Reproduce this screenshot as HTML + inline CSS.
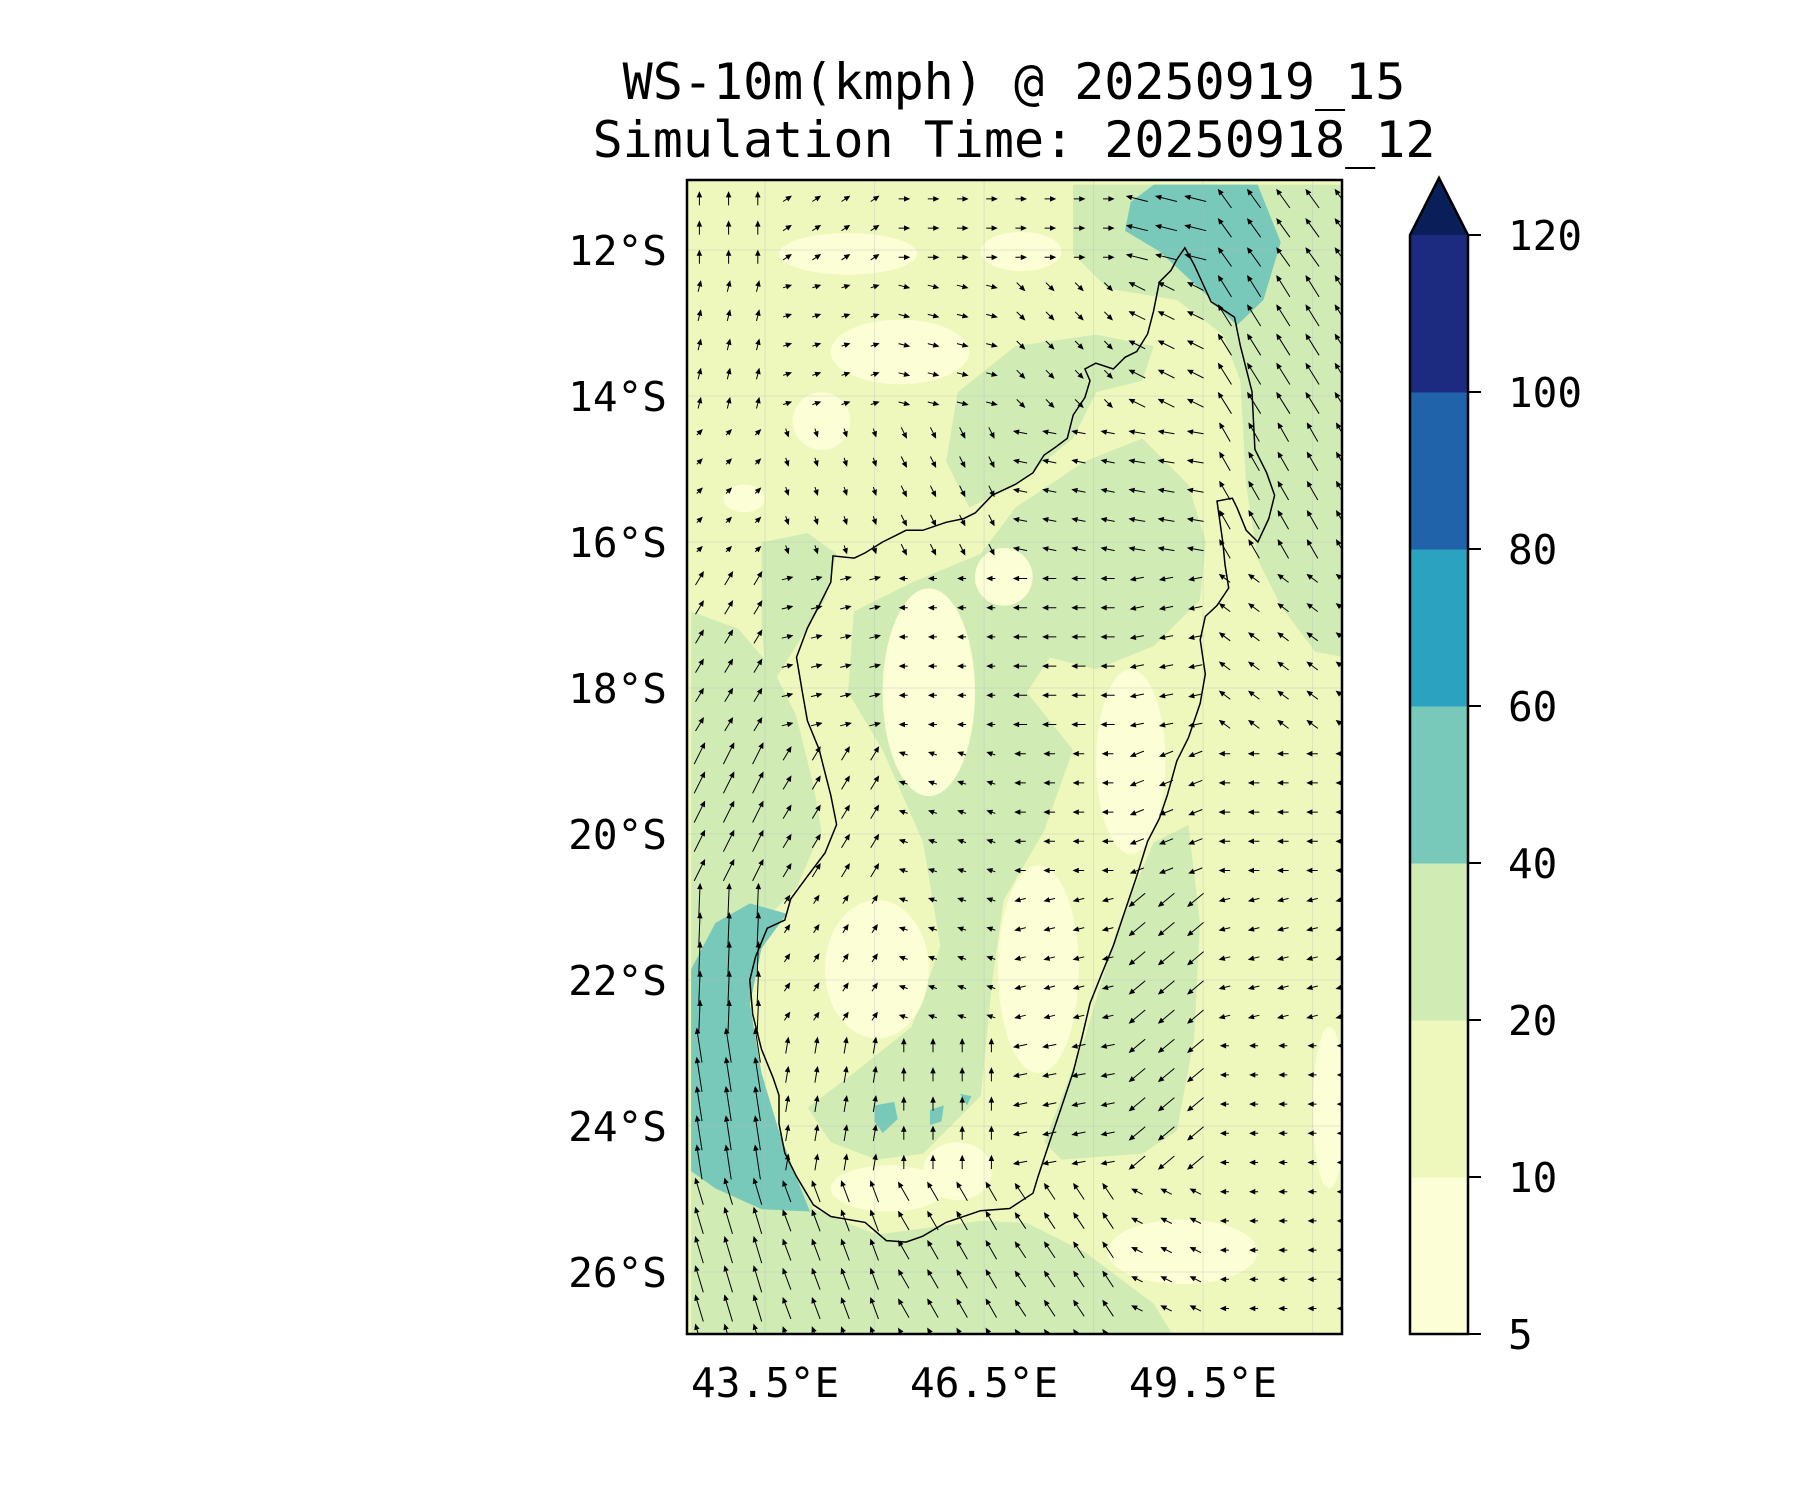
<!DOCTYPE html>
<html><head><meta charset="utf-8">
<style>
html,body{margin:0;padding:0;background:#fff;}
svg{display:block;}
text{font-family:"DejaVu Sans Mono","Liberation Mono",monospace;fill:#000;}
</style></head>
<body>
<svg id="chart" width="1800" height="1500" viewBox="0 0 1800 1500" xmlns="http://www.w3.org/2000/svg">
<defs>
<clipPath id="plotclip"><rect x="687" y="180" width="655" height="1154"/></clipPath>
</defs>
<text x="1014" y="99" font-size="50" text-anchor="middle">WS-10m(kmph) @ 20250919_15</text>
<text x="1014" y="157" font-size="50" text-anchor="middle">Simulation Time: 20250918_12</text>

<g clip-path="url(#plotclip)">
  <rect x="687" y="180" width="655" height="1154" fill="#eef8bd"/>
  <g transform="scale(1.1538)">
    <path fill="#d0ecb4" d="M599,530 L640,545 L670,580 L690,620 L705,680 L712,720 L690,770 L660,800 L645,840 L650,900 L680,1000 L705,1048 L760,1070 L850,1058 L890,1060 L940,1085 L1000,1130 L1020,1163 L599,1163 Z"/>
    <path fill="#d0ecb4" d="M660,470 L700,462 L725,480 L715,520 L690,560 L665,600 L660,540 Z"/>
    <path fill="#d0ecb4" d="M1000,730 L1030,715 L1040,800 L1035,900 L1020,980 L990,1000 L920,1005 L905,990 L940,900 L970,800 Z"/>
    <path fill="#d0ecb4" d="M930,160 L1168,160 L1168,570 L1140,565 L1110,525 L1090,485 L1080,420 L1075,330 L1060,290 L1020,260 L960,250 L930,220 Z"/>
    <path fill="#d0ecb4" d="M830,340 L880,300 L950,290 L1000,300 L990,330 L950,340 L930,380 L880,420 L840,440 L820,400 Z"/>
    <path fill="#d0ecb4" d="M880,440 L940,400 L990,380 L1030,420 L1045,470 L1040,520 L1000,560 L950,580 L910,570 L890,600 L930,650 L905,720 L870,780 L860,850 L850,950 L800,1000 L760,1005 L720,990 L700,960 L740,930 L790,890 L815,820 L800,730 L765,650 L735,600 L740,530 L790,505 L850,480 Z"/>
    <path fill="#78c9ba" d="M980,175 L1000,160 L1090,160 L1110,210 L1095,260 L1072,282 L1045,255 L1005,218 L975,200 Z"/>
    <path fill="#78c9ba" d="M599,840 L620,800 L650,783 L682,792 L660,822 L650,870 L660,930 L675,980 L690,1020 L702,1050 L660,1048 L620,1030 L599,1015 Z"/>
    <path fill="#78c9ba" d="M758,958 L775,955 L778,970 L765,982 L758,972 Z M806,962 L818,958 L816,972 L806,975 Z M832,948 L842,950 L838,958 Z"/>
    <g fill="#fcfed6">
      <ellipse cx="735" cy="220" rx="60" ry="18"/>
      <ellipse cx="885" cy="218" rx="35" ry="17"/>
      <ellipse cx="780" cy="305" rx="60" ry="28"/>
      <ellipse cx="712" cy="365" rx="25" ry="25"/>
      <ellipse cx="645" cy="432" rx="18" ry="12"/>
      <ellipse cx="1025" cy="1085" rx="65" ry="28"/>
      <ellipse cx="1152" cy="960" rx="14" ry="70"/>
      <ellipse cx="805" cy="600" rx="40" ry="90"/>
      <ellipse cx="980" cy="660" rx="30" ry="80"/>
      <ellipse cx="900" cy="840" rx="35" ry="90"/>
      <ellipse cx="760" cy="840" rx="45" ry="60"/>
      <ellipse cx="770" cy="1030" rx="50" ry="20"/>
      <ellipse cx="830" cy="1015" rx="30" ry="25"/>
      <ellipse cx="870" cy="500" rx="25" ry="25"/>
    </g>
  </g>
  <g id="gridlines"></g>
  <g id="coast"></g>
  <g id="arrows"></g>
</g>
<rect x="687" y="180" width="655" height="1154" fill="none" stroke="#000" stroke-width="2.5"/>
<g id="axes"></g>
<g id="colorbar"></g>
</svg>
<script>
const latTicks = [12, 14, 16, 18, 20, 22, 24, 26];
const lonTicks = [43.5, 46.5, 49.5];
const lonGrid = [43.5, 45, 46.5, 48, 49.5, 51];
const cbLevels = [5, 10, 20, 40, 60, 80, 100, 120];
const cbColors = ["#fcfed6", "#eef8bd", "#d0ecb4", "#78c9ba", "#2ca2c1", "#2163aa", "#1c2b7f"];
const cbExtendColor = "#0a1f5a";
const coastLon = [49.25,49.38,49.61,49.93,50.01,50.17,50.21,50.37,50.48,50.40,50.25,50.09,49.96,49.90,49.69,49.77,49.80,49.85,49.69,49.53,49.46,49.53,49.46,49.30,49.14,49.01,48.90,48.74,48.59,48.43,48.27,48.11,47.95,47.84,47.72,47.56,47.40,47.24,47.17,46.85,46.45,45.98,45.66,45.43,45.16,44.87,44.40,44.16,43.93,43.77,43.69,43.69,43.61,43.45,43.33,43.29,43.37,43.53,43.77,43.85,44.08,44.32,44.48,44.40,44.32,44.24,44.08,44.01,43.93,44.08,44.24,44.40,44.43,44.72,44.87,45.11,45.27,45.43,45.66,45.98,46.22,46.38,46.61,46.93,47.17,47.32,47.48,47.64,47.72,47.88,47.95,47.88,48.03,48.27,48.43,48.59,48.74,48.82,48.90,49.06,49.14];
const coastLat = [11.97,12.21,12.71,12.92,13.31,13.94,14.73,15.05,15.36,15.68,16.00,15.84,15.52,15.40,15.44,16.00,16.31,16.63,16.87,17.02,17.34,17.81,18.21,18.68,19.00,19.47,19.79,20.10,20.58,21.05,21.53,21.92,22.32,22.79,23.26,23.74,24.21,24.69,24.92,25.13,25.16,25.32,25.51,25.59,25.57,25.32,25.24,25.08,24.69,24.37,23.97,23.58,23.34,22.95,22.47,22.00,21.68,21.29,21.18,20.89,20.58,20.26,19.87,19.47,19.16,18.84,18.45,18.05,17.58,17.18,16.87,16.55,16.19,16.22,16.15,16.00,15.92,15.84,15.84,15.73,15.68,15.60,15.36,15.21,15.05,14.81,14.70,14.58,14.26,14.02,13.79,13.63,13.55,13.63,13.47,13.39,13.15,12.84,12.44,12.28,12.13];
// coarse wind field (u east, v north), rows = lat 11.5..25.5 step 2, cols = lon 43..50.5 step 1.5
const windLonCenters = [43, 44.5, 46, 47.5, 49, 50.5];
const windLatCenters = [11.5, 13.5, 15.5, 17.5, 19.5, 21.5, 23.5, 25.5];
const windU = [
 [0.0, 0.3, 0.4, 0.4, -0.8, -0.5],
 [0.1, 0.3, 0.4, 0.3, -0.6, -0.5],
 [0.2, 0.1, 0.2, -0.5, -0.6, -0.4],
 [0.3, 0.4, -0.3, -0.5, -0.5, -0.4],
 [0.4, 0.3, -0.3, -0.4, -0.5, -0.4],
 [0.05, 0.2, -0.3, -0.4, -0.6, -0.4],
 [-0.2, 0.1, 0.0, -0.5, -0.6, -0.3],
 [-0.3, -0.3, -0.4, -0.4, -0.4, -0.3]];
const windV = [
 [0.5, 0.2, 0.0, 0.0, 0.2, 0.7],
 [0.4, 0.1, -0.1, -0.3, 0.3, 0.8],
 [0.2, -0.3, -0.4, 0.1, 0.1, 0.7],
 [0.5, 0.1, 0.0, 0.0, -0.1, 0.3],
 [0.8, 0.5, 0.1, 0.0, -0.2, 0.0],
 [1.2, 0.3, 0.1, -0.1, -0.5, -0.1],
 [1.3, 0.6, 0.5, -0.1, -0.5, 0.0],
 [1.0, 0.8, 0.7, 0.6, 0.2, 0.0]];

const NS = "http://www.w3.org/2000/svg";
const X0 = 687, LON0 = 42.43, PX = 73, Y12 = 250;
function X(lon){ return X0 + (lon - LON0) * PX; }
function Y(lat){ return Y12 + (lat - 12) * PX; }
function mk(tag, parent){ const e = document.createElementNS(NS, tag); parent.appendChild(e); return e; }

const gg = document.getElementById('gridlines');
lonGrid.forEach(l => {
  const ln = mk('line', gg);
  
  
  ln.setAttribute('x1', X(l)); ln.setAttribute('x2', X(l)); ln.setAttribute('y1', 180); ln.setAttribute('y2', 1334);
  ln.setAttribute('stroke', '#bbb'); ln.setAttribute('stroke-opacity', '0.35'); ln.setAttribute('stroke-width', '1');
});
latTicks.forEach(l => {
  const ln = mk('line', gg);
  
  
  ln.setAttribute('x1', 687); ln.setAttribute('x2', 1342); ln.setAttribute('y1', Y(l)); ln.setAttribute('y2', Y(l));
  ln.setAttribute('stroke', '#bbb'); ln.setAttribute('stroke-opacity', '0.35'); ln.setAttribute('stroke-width', '1');
});

const cg = document.getElementById('coast');
const cp = mk('polygon', cg);


cp.setAttribute('points', coastLon.map((l, i) => X(l).toFixed(1) + ',' + Y(coastLat[i]).toFixed(1)).join(' '));
cp.setAttribute('fill', 'none'); cp.setAttribute('stroke', '#000'); cp.setAttribute('stroke-width', '1.5');

const ag = document.getElementById('arrows');
function nearest(arr, v){ let b = 0; arr.forEach((a, i) => { if (Math.abs(a - v) < Math.abs(arr[b] - v)) b = i; }); return b; }
for (let lat = 11.3; lat < 26.9; lat += 0.4) {
  for (let lon = 42.6; lon < 51.4; lon += 0.4) {
    const r = nearest(windLatCenters, lat), c = nearest(windLonCenters, lon);
    const u = windU[r][c], v = windV[r][c];
    const cx = X(lon), cy = Y(lat), s = 26;
    const dx = u * s, dy = -v * s;
    const len = Math.hypot(dx, dy) || 1;
    const x1 = cx - dx / 2, y1 = cy - dy / 2, x2 = cx + dx / 2, y2 = cy + dy / 2;
    const ux = dx / len, uy = dy / len, h = 4.5, w = 2;
    const p = mk('path', ag);
    
    
    const bx = x2 - ux * h, by = y2 - uy * h;
    p.setAttribute('d', `M${x1.toFixed(1)},${y1.toFixed(1)} L${bx.toFixed(1)},${by.toFixed(1)} M${x2.toFixed(1)},${y2.toFixed(1)} L${(bx - uy * w).toFixed(1)},${(by + ux * w).toFixed(1)} L${(bx + uy * w).toFixed(1)},${(by - ux * w).toFixed(1)} Z`);
    p.setAttribute('stroke', '#000'); p.setAttribute('stroke-width', '1'); p.setAttribute('fill', '#000');
  }
}

const ax = document.getElementById('axes');
latTicks.forEach(l => {
  const t = mk('text', ax);
  
  
  t.setAttribute('x', 667); t.setAttribute('y', Y(l) + 15); t.setAttribute('font-size', '41'); t.setAttribute('text-anchor', 'end');
  t.textContent = l + '°S';
});
lonTicks.forEach(l => {
  const t = mk('text', ax);
  
  
  t.setAttribute('x', X(l)); t.setAttribute('y', 1397); t.setAttribute('font-size', '41'); t.setAttribute('text-anchor', 'middle');
  t.textContent = l.toFixed(1) + '°E';
});

const cb = document.getElementById('colorbar');
const CBX = 1410, CBW = 58, CBTOP = 235, CBBOT = 1334;
const step = (CBBOT - CBTOP) / (cbLevels.length - 1);
cbColors.forEach((col, i) => {
  const r = mk('rect', cb);
  
  
  r.setAttribute('x', CBX); r.setAttribute('y', CBBOT - (i + 1) * step); r.setAttribute('width', CBW); r.setAttribute('height', step + 0.5);
  r.setAttribute('fill', col);
});
const tri = mk('polygon', cb);


tri.setAttribute('points', `${CBX},${CBTOP} ${CBX + CBW / 2},178 ${CBX + CBW},${CBTOP}`);
tri.setAttribute('fill', cbExtendColor);
const outline = mk('polygon', cb);


outline.setAttribute('points', `${CBX},${CBBOT} ${CBX},${CBTOP} ${CBX + CBW / 2},178 ${CBX + CBW},${CBTOP} ${CBX + CBW},${CBBOT}`);
outline.setAttribute('fill', 'none'); outline.setAttribute('stroke', '#000'); outline.setAttribute('stroke-width', '2.5');
cbLevels.forEach((lv, i) => {
  const y = CBBOT - i * step;
  const tk = mk('line', cb);
  
  
  tk.setAttribute('x1', CBX + CBW); tk.setAttribute('x2', CBX + CBW + 13); tk.setAttribute('y1', y); tk.setAttribute('y2', y);
  tk.setAttribute('stroke', '#000'); tk.setAttribute('stroke-width', '2');
  const t = mk('text', cb);
  
  
  t.setAttribute('x', 1508); t.setAttribute('y', y + 15); t.setAttribute('font-size', '41');
  t.textContent = lv;
});
</script>
</body></html>
